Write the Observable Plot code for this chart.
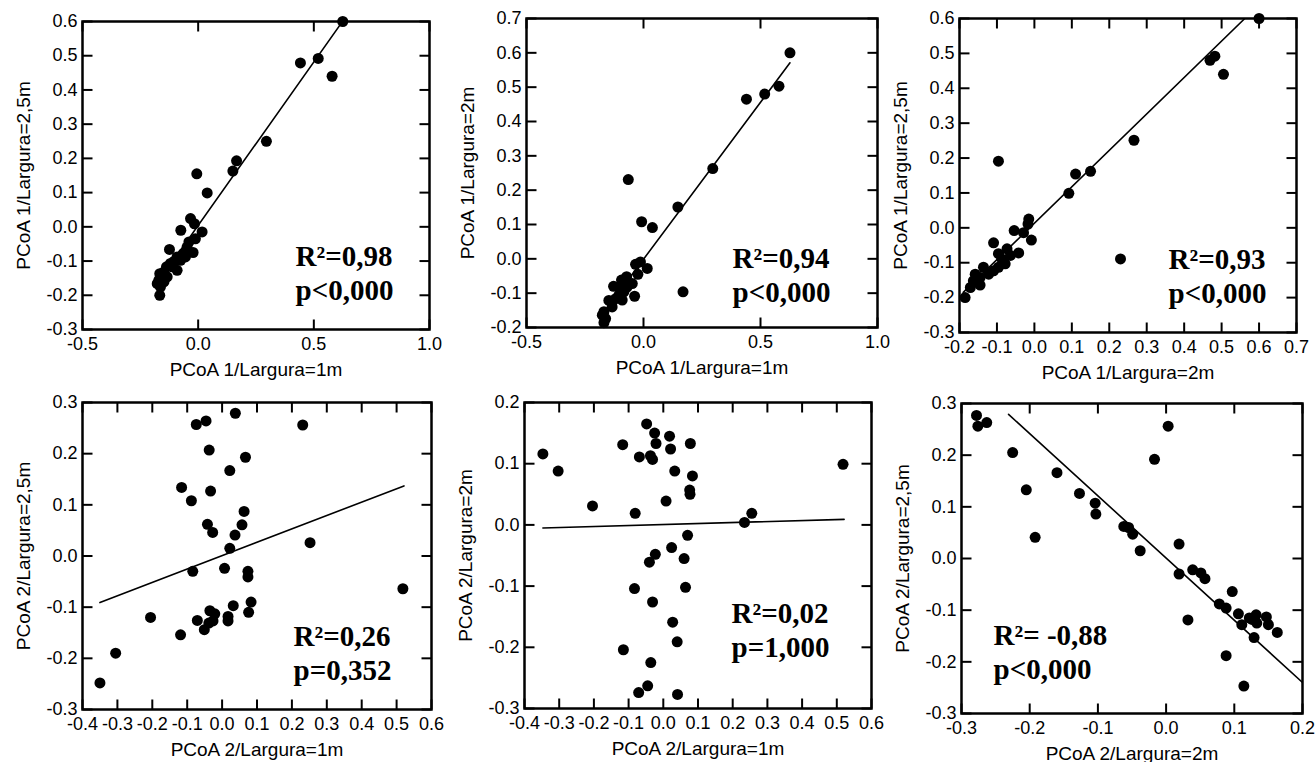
<!DOCTYPE html>
<html><head><meta charset="utf-8">
<script src="https://cdn.jsdelivr.net/npm/d3@7"></script>
<script src="https://cdn.jsdelivr.net/npm/@observablehq/plot@0.6"></script>
<style>
html,body{margin:0;padding:0;background:#fff;overflow:hidden;}
#chart{position:relative;width:1316px;height:762px;}
#chart > svg{position:absolute;}
</style></head><body><div id="chart"></div>
<script>
// ---------- Panel 1: PCoA 1, 1m vs 2,5m ----------
const p1x = [0.625,0.442,0.519,0.579,0.295,0.166,0.150,-0.006,0.039,-0.033,-0.016,-0.075,0.017,-0.012,-0.040,-0.022,-0.124,-0.065,-0.091,-0.105,-0.120,-0.091,-0.137,-0.148,-0.166,-0.170,-0.177,-0.148,-0.163,-0.166,-0.134,-0.076,-0.055,-0.048,-0.112,-0.156];
const p1y = [0.600,0.479,0.492,0.440,0.250,0.193,0.163,0.155,0.099,0.024,0.009,-0.010,-0.015,-0.035,-0.044,-0.075,-0.066,-0.078,-0.088,-0.101,-0.107,-0.127,-0.117,-0.132,-0.137,-0.156,-0.166,-0.161,-0.176,-0.200,-0.146,-0.098,-0.088,-0.059,-0.117,-0.146];
const p1fitX = [-0.177, 0.625];
const p1fitY = [-0.165, 0.601];

// ---------- Panel 2: PCoA 1, 1m vs 2m ----------
const p2x = [0.626,0.440,0.518,0.579,0.296,0.147,-0.065,-0.008,0.038,0.169,-0.034,-0.013,0.016,-0.024,-0.038,-0.072,-0.048,-0.094,-0.128,-0.084,-0.105,-0.119,-0.134,-0.134,-0.169,-0.176,-0.162,-0.169,-0.148,-0.105,-0.070,-0.091];
const p2y = [0.600,0.465,0.480,0.503,0.263,0.151,0.231,0.108,0.091,-0.096,-0.016,-0.009,-0.028,-0.045,-0.109,-0.052,-0.072,-0.062,-0.080,-0.096,-0.106,-0.116,-0.125,-0.140,-0.154,-0.164,-0.174,-0.186,-0.121,-0.082,-0.082,-0.120];
const p2fitX = [-0.176, 0.626];
const p2fitY = [-0.162, 0.571];

// ---------- Panel 3: PCoA 1, 2m vs 2,5m ----------
const p3x = [0.600,0.469,0.482,0.505,0.266,0.150,0.110,0.092,-0.096,0.230,-0.015,-0.017,-0.054,-0.029,-0.008,-0.109,-0.042,-0.073,-0.096,-0.087,-0.078,-0.096,-0.109,-0.136,-0.122,-0.158,-0.145,-0.163,-0.145,-0.171,-0.185,-0.064];
const p3y = [0.600,0.480,0.492,0.440,0.251,0.162,0.154,0.099,0.191,-0.089,0.025,0.011,-0.008,-0.014,-0.035,-0.043,-0.072,-0.060,-0.074,-0.089,-0.103,-0.113,-0.123,-0.113,-0.133,-0.133,-0.142,-0.152,-0.164,-0.171,-0.200,-0.079];
const p3fitX = [-0.190, 0.562];
const p3fitY = [-0.185, 0.600];

// ---------- Panel 4: PCoA 2, 1m vs 2,5m ----------
const p4x = [-0.350,-0.305,-0.205,-0.119,-0.116,-0.088,-0.084,-0.074,-0.046,-0.037,-0.033,-0.042,-0.027,-0.071,-0.051,-0.035,-0.021,-0.026,-0.038,0.007,0.022,0.022,0.017,0.017,0.032,0.038,0.037,0.057,0.063,0.067,0.074,0.074,0.076,0.083,0.231,0.252,0.518];
const p4y = [-0.248,-0.190,-0.120,-0.154,0.134,0.108,-0.030,0.257,0.264,0.207,0.127,0.062,0.046,-0.126,-0.144,-0.107,-0.113,-0.127,-0.131,-0.024,0.167,0.015,-0.118,-0.127,-0.097,0.279,0.041,0.061,0.087,0.193,-0.030,-0.041,-0.110,-0.090,0.256,0.026,-0.064];
const p4fitX = [-0.350, 0.521];
const p4fitY = [-0.091, 0.137];

// ---------- Panel 5: PCoA 2, 1m vs 2m ----------
const p5x = [-0.347,-0.303,-0.204,-0.117,-0.069,-0.081,-0.048,-0.037,-0.031,-0.025,-0.021,0.018,0.021,0.033,0.008,0.078,0.084,0.076,0.077,0.234,0.255,0.518,0.070,0.024,-0.023,-0.040,0.060,-0.083,0.064,-0.031,0.027,0.040,-0.115,-0.036,-0.045,-0.071,0.041];
const p5y = [0.116,0.088,0.031,0.131,0.111,0.019,0.165,0.113,0.107,0.150,0.133,0.145,0.124,0.088,0.039,0.133,0.080,0.057,0.050,0.004,0.019,0.099,-0.017,-0.037,-0.048,-0.061,-0.055,-0.104,-0.102,-0.126,-0.159,-0.191,-0.204,-0.225,-0.263,-0.274,-0.277];
const p5fitX = [-0.347, 0.521];
const p5fitY = [-0.005, 0.009];

// ---------- Panel 6: PCoA 2, 2m vs 2,5m ----------
const p6x = [-0.278,-0.276,-0.263,-0.225,-0.205,-0.192,-0.160,-0.127,-0.104,-0.103,-0.062,-0.055,-0.049,-0.038,-0.017,0.003,0.019,0.019,0.032,0.039,0.051,0.057,0.078,0.088,0.097,0.088,0.106,0.111,0.114,0.122,0.132,0.133,0.129,0.147,0.150,0.163,0.126];
const p6y = [0.277,0.256,0.263,0.205,0.133,0.041,0.166,0.126,0.107,0.086,0.062,0.060,0.047,0.015,0.192,0.256,0.028,-0.030,-0.119,-0.022,-0.028,-0.039,-0.088,-0.096,-0.064,-0.188,-0.107,-0.128,-0.247,-0.115,-0.109,-0.125,-0.153,-0.113,-0.128,-0.143,-0.118];
const p6fitX = [-0.231, 0.200];
const p6fitY = [0.279, -0.240];

// ---------- Axis ticks ----------
const ticksA = [-0.5, 0.0, 0.5, 1.0];
const ticksPco1y = [-0.3,-0.2,-0.1,0.0,0.1,0.2,0.3,0.4,0.5,0.6];
const ticksPco1y2 = [-0.2,-0.1,0.0,0.1,0.2,0.3,0.4,0.5,0.6,0.7];
const ticksP3x = [-0.2,-0.1,0.0,0.1,0.2,0.3,0.4,0.5,0.6,0.7];
const ticksP4x = [-0.4,-0.3,-0.2,-0.1,0.0,0.1,0.2,0.3,0.4,0.5,0.6];
const ticksP4y = [-0.3,-0.2,-0.1,0.0,0.1,0.2,0.3];
const ticksP5y = [-0.3,-0.2,-0.1,0.0,0.1,0.2];
const ticksP6x = [-0.3,-0.2,-0.1,0.0,0.1,0.2];

// ---------- Texts ----------
const xLabels = ["PCoA 1/Largura=1m","PCoA 1/Largura=1m","PCoA 1/Largura=2m","PCoA 2/Largura=1m","PCoA 2/Largura=1m","PCoA 2/Largura=2m"];
const yLabels = ["PCoA 1/Largura=2,5m","PCoA 1/Largura=2m","PCoA 1/Largura=2,5m","PCoA 2/Largura=2,5m","PCoA 2/Largura=2m","PCoA 2/Largura=2,5m"];
const statTexts = ["R²=0,98\np<0,000","R²=0,94\np<0,000","R²=0,93\np<0,000","R²=0,26\np=0,352","R²=0,02\np=1,000","R²= -0,88\np<0,000"];

// ---------- Layout (page pixels of each frame) ----------
const layout = [
  {L:82,  T:21,  W:347, H:308, sdx:213, sdy:-30},
  {L:526, T:18,  W:351, H:309, sdx:206, sdy:-26},
  {L:959, T:18,  W:337, H:314, sdx:209, sdy:-30},
  {L:82,  T:402, W:349, H:307, sdx:211, sdy:-30},
  {L:524, T:402, W:347, H:306, sdx:207, sdy:-52},
  {L:961, T:403, W:341, H:310, sdx:32,  sdy:-35}
];

const panels = [
  {x:p1x, y:p1y, fx:p1fitX, fy:p1fitY, xd:[-0.5,1.0], yd:[-0.3,0.6], xt:ticksA, yt:ticksPco1y},
  {x:p2x, y:p2y, fx:p2fitX, fy:p2fitY, xd:[-0.5,1.0], yd:[-0.2,0.7], xt:ticksA, yt:ticksPco1y2},
  {x:p3x, y:p3y, fx:p3fitX, fy:p3fitY, xd:[-0.2,0.7], yd:[-0.3,0.6], xt:ticksP3x, yt:ticksPco1y},
  {x:p4x, y:p4y, fx:p4fitX, fy:p4fitY, xd:[-0.4,0.6], yd:[-0.3,0.3], xt:ticksP4x, yt:ticksP4y},
  {x:p5x, y:p5y, fx:p5fitX, fy:p5fitY, xd:[-0.4,0.6], yd:[-0.3,0.2], xt:ticksP4x, yt:ticksP5y},
  {x:p6x, y:p6y, fx:p6fitX, fy:p6fitY, xd:[-0.3,0.2], yd:[-0.3,0.3], xt:ticksP6x, yt:ticksP4y}
];

const fmt = d => (Math.abs(d) < 1e-9 ? 0 : d).toFixed(1);
const sans = "'Liberation Sans', Arial, Helvetica, sans-serif";
const serif = "'Liberation Serif', 'Times New Roman', serif";
const ml = 80, mr = 22, mt = 22, mb = 58;
const chart = document.getElementById("chart");

panels.forEach((p, i) => {
  const box = layout[i];
  const pts = p.x.map((v, j) => ({x: v, y: p.y[j]}));
  const fit = p.fx.map((v, j) => ({x: v, y: p.fy[j]}));
  const tk = 10; // inward tick length in pixels
  const [x0, x1] = p.xd, [y0, y1] = p.yd;
  const kx = (x1 - x0) * tk / box.W, ky = (y1 - y0) * tk / box.H;
  const segs = [
    ...p.xt.map(t => ({a: t, b: y1, c: t, d: y1 - ky})),
    ...p.xt.map(t => ({a: t, b: y0, c: t, d: y0 + ky})),
    ...p.yt.map(t => ({a: x0, b: t, c: x0 + kx, d: t})),
    ...p.yt.map(t => ({a: x1, b: t, c: x1 - kx, d: t}))
  ];
  const svg = Plot.plot({
    width: box.W + ml + mr,
    height: box.H + mt + mb,
    marginLeft: ml, marginRight: mr, marginTop: mt, marginBottom: mb,
    style: {overflow: "visible", fontFamily: sans, fontSize: "18px"},
    x: {domain: p.xd},
    y: {domain: p.yd},
    marks: [
      Plot.axisX({anchor: "bottom", ticks: p.xt, tickSize: 0, tickPadding: 8, tickFormat: fmt, label: null, fontSize: 18, fill: "black"}),
      Plot.axisY({anchor: "left", ticks: p.yt, tickSize: 0, tickPadding: 5, tickFormat: fmt, label: null, fontSize: 18, fill: "black"}),
      Plot.frame({stroke: "black", strokeWidth: 2.5}),
      Plot.link(segs, {x1: "a", y1: "b", x2: "c", y2: "d", stroke: "black", strokeWidth: 2}),
      Plot.line(fit, {x: "x", y: "y", stroke: "black", strokeWidth: 1.6, clip: true}),
      Plot.dot(pts, {x: "x", y: "y", r: 5.5, fill: "black"}),
      Plot.text([xLabels[i]], {frameAnchor: "bottom", dy: 40, textAnchor: "middle", lineAnchor: "middle", fontSize: 19, fill: "black"}),
      Plot.text([yLabels[i]], {frameAnchor: "left", dx: -59, rotate: -90, textAnchor: "middle", lineAnchor: "middle", fontSize: 19, fill: "black"}),
      Plot.text([statTexts[i]], {frameAnchor: "bottom-left", dx: box.sdx, dy: box.sdy, textAnchor: "start", lineAnchor: "bottom", lineHeight: 1.15, fontFamily: serif, fontWeight: "bold", fontSize: 29, fill: "black"})
    ]
  });
  svg.style.left = (box.L - ml) + "px";
  svg.style.top = (box.T - mt) + "px";
  svg.style.background = "none";
  chart.appendChild(svg);
});
</script>
</body></html>
